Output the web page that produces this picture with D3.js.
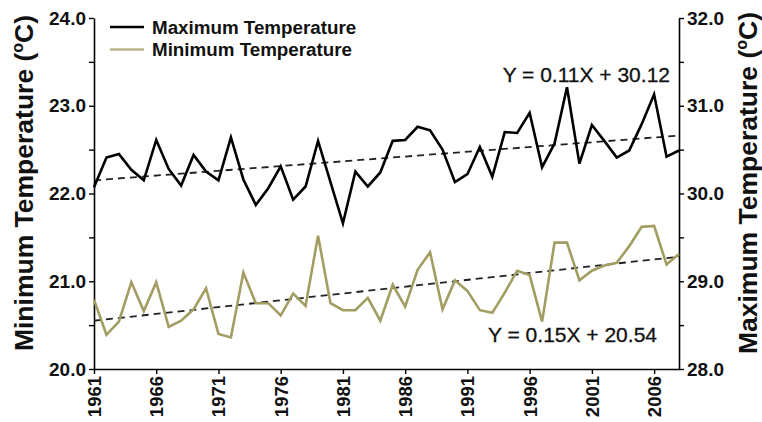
<!DOCTYPE html>
<html>
<head>
<meta charset="utf-8">
<script src="https://cdn.jsdelivr.net/npm/d3@7"></script>
<style>
  html, body { margin: 0; padding: 0; background: #fff; }
  svg { display: block; }
  text { font-family: "Liberation Sans", Arial, sans-serif; }
</style>
</head>
<body>
<svg id="chart" width="762" height="422"></svg>
<script>
// ---------- data ----------
const years = d3.range(1961, 2009);
const maxTemp = [30.07, 30.41, 30.45, 30.27, 30.15, 30.61, 30.28, 30.09, 30.44, 30.25,
                 30.15, 30.64, 30.16, 29.87, 30.06, 30.31, 29.93, 30.08, 30.60, 30.13,
                 29.66, 30.25, 30.08, 30.24, 30.60, 30.61, 30.76, 30.72, 30.50, 30.13,
                 30.22, 30.53, 30.19, 30.70, 30.69, 30.92, 30.30, 30.57, 31.21, 30.34,
                 30.78, 30.60, 30.41, 30.49, 30.79, 31.13, 30.42, 30.49];
const minTemp = [20.79, 20.39, 20.54, 20.99, 20.66, 20.99, 20.48, 20.55, 20.68, 20.92,
                 20.40, 20.36, 21.10, 20.75, 20.75, 20.61, 20.86, 20.72, 21.52, 20.75,
                 20.67, 20.67, 20.81, 20.55, 20.96, 20.71, 21.13, 21.33, 20.68, 21.01,
                 20.89, 20.67, 20.64, 20.87, 21.12, 21.07, 20.54, 21.44, 21.44, 21.01,
                 21.12, 21.18, 21.21, 21.40, 21.62, 21.63, 21.19, 21.31];
const trendYears = [1961, 2008];
const maxTrend = [30.15, 30.66];
const minTrend = [20.55, 21.28];
const xTickYears = [1961, 1966, 1971, 1976, 1981, 1986, 1991, 1996, 2001, 2006];
const leftTicks = [20, 20.5, 21, 21.5, 22, 22.5, 23, 23.5, 24];
const rightTicks = [28, 28.5, 29, 29.5, 30, 30.5, 31, 31.5, 32];
const seriesNames = ["Maximum Temperature", "Minimum Temperature"];
const maxEq = "Y = 0.11X + 30.12";
const minEq = "Y = 0.15X + 20.54";

// ---------- layout ----------
const svg = d3.select("#chart");
const X0 = 94, X1 = 679, YT = 18, YB = 369;
const x = d3.scaleLinear().domain([1961, 2008]).range([X0, X1]);
const yL = d3.scaleLinear().domain([20, 24]).range([YB, YT]);
const yR = d3.scaleLinear().domain([28, 32]).range([YB, YT]);
const maxColor = "#000000";
const minColor = "#a29d62";

function styleAxis(g, size) {
  g.selectAll("path.domain").attr("stroke", "#000").attr("stroke-width", 1.6);
  g.selectAll(".tick line").attr("stroke", "#000").attr("stroke-width", 1.4);
  g.selectAll(".tick text").attr("font-size", size).attr("font-weight", "bold")
    .attr("fill", "#111").attr("font-family", "Liberation Sans, Arial, sans-serif");
}
const fmtInt = v => (Math.abs(v - Math.round(v)) < 1e-6 ? d3.format(".1f")(v) : "");

// left axis
const gL = svg.append("g").attr("transform", `translate(${X0},0)`)
  .call(d3.axisLeft(yL).tickValues(leftTicks).tickFormat(fmtInt).tickSize(5).tickSizeOuter(0).tickPadding(3));
styleAxis(gL, 19);

// right axis
const gR = svg.append("g").attr("transform", `translate(${X1},0)`)
  .call(d3.axisRight(yR).tickValues(rightTicks).tickFormat(fmtInt).tickSize(5).tickSizeOuter(0).tickPadding(3));
styleAxis(gR, 19);

// bottom axis
const gB = svg.append("g").attr("transform", `translate(0,${YB})`)
  .call(d3.axisBottom(x).tickValues(xTickYears).tickFormat(d3.format("d")).tickSize(5).tickSizeOuter(0));
styleAxis(gB, 18.5);
gB.selectAll(".tick text")
  .attr("transform", "rotate(-90)")
  .attr("text-anchor", "end")
  .attr("x", -7).attr("y", 0).attr("dy", "0.35em");

// trend lines
const trendLine = (yScale) => d3.line().x(d => x(d[0])).y(d => yScale(d[1]));
svg.append("path")
  .datum(trendYears.map((t, i) => [t, maxTrend[i]]))
  .attr("d", trendLine(yR))
  .attr("fill", "none").attr("stroke", "#222").attr("stroke-width", 1.8)
  .attr("stroke-dasharray", "7,5");
svg.append("path")
  .datum(trendYears.map((t, i) => [t, minTrend[i]]))
  .attr("d", trendLine(yL))
  .attr("fill", "none").attr("stroke", "#222").attr("stroke-width", 1.8)
  .attr("stroke-dasharray", "7,5");

// series lines
svg.append("path")
  .datum(years.map((yr, i) => [yr, minTemp[i]]))
  .attr("d", d3.line().x(d => x(d[0])).y(d => yL(d[1])))
  .attr("fill", "none").attr("stroke", minColor).attr("stroke-width", 2.6)
  .attr("stroke-linejoin", "miter");
svg.append("path")
  .datum(years.map((yr, i) => [yr, maxTemp[i]]))
  .attr("d", d3.line().x(d => x(d[0])).y(d => yR(d[1])))
  .attr("fill", "none").attr("stroke", maxColor).attr("stroke-width", 2.6)
  .attr("stroke-linejoin", "miter");

// legend
const legendColors = [maxColor, minColor];
const legend = svg.append("g");
seriesNames.forEach((name, i) => {
  const yy = 27 + i * 22.5;
  legend.append("line").attr("x1", 110).attr("x2", 144).attr("y1", yy).attr("y2", yy)
    .attr("stroke", i === 0 ? legendColors[0] : "#b8b38a").attr("stroke-width", 2.6);
  legend.append("text").attr("x", 152).attr("y", yy + 6.5)
    .attr("font-size", 18.8).attr("font-weight", "bold").attr("fill", "#111").text(name);
});

// equations
svg.append("text").attr("x", 670).attr("y", 82).attr("text-anchor", "end")
  .attr("font-size", 21).attr("fill", "#111").attr("stroke", "#111").attr("stroke-width", 0.3)
  .text(maxEq);
svg.append("text").attr("x", 657).attr("y", 342).attr("text-anchor", "end")
  .attr("font-size", 21).attr("fill", "#111").attr("stroke", "#111").attr("stroke-width", 0.3)
  .text(minEq);

// axis titles
function axisTitle(cx, cy, label) {
  const t = svg.append("text")
    .attr("transform", `translate(${cx},${cy}) rotate(-90)`)
    .attr("text-anchor", "middle")
    .attr("font-size", 26.5).attr("font-weight", "bold").attr("fill", "#111");
  t.append("tspan").text(label + " (");
  t.append("tspan").attr("font-size", 16).attr("dy", -10).text("o");
  t.append("tspan").attr("dy", 10).text("C)");
}
axisTitle(33, 183, "Minimum Temperature");
axisTitle(757, 183, "Maximum Temperature");
</script>
</body>
</html>
